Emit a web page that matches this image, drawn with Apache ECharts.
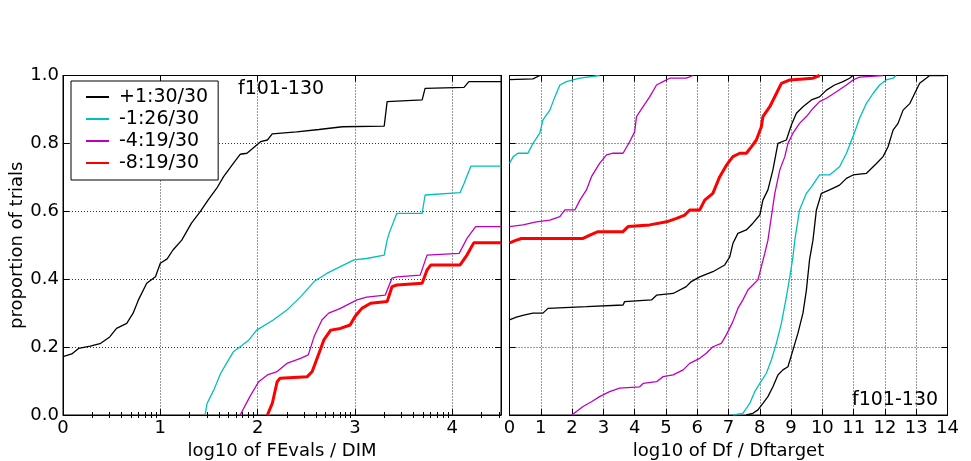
<!DOCTYPE html>
<html>
<head>
<meta charset="utf-8">
<script src="https://cdn.jsdelivr.net/npm/echarts@6/dist/echarts.min.js"></script>
<style>
html,body{margin:0;padding:0;background:#fff;}
#chart{width:971px;height:461px;}
</style>
</head>
<body>
<div id="chart"></div>
<script>
// ---------- tick labels ----------
const leftXTicks = [0, 1, 2, 3, 4];
const rightXTicks = [0,1,2,3,4,5,6,7,8,9,10,11,12,13,14];
const yTicks = [0.0, 0.2, 0.4, 0.6, 0.8, 1.0];

// ---------- legend names ----------
const legendNames = ['+1:30/30', '-1:26/30', '-4:19/30', '-8:19/30'];
const panelTitle = 'f101-130';
const leftXName = 'log10 of FEvals / DIM';
const rightXName = 'log10 of Df / Dftarget';
const yName = 'proportion of trials';

// ---------- left panel: ECDF of FEvals/DIM ----------
const fevalsP1 = [[0,0.172],[0.09,0.18],[0.16,0.196],[0.28,0.203],[0.38,0.21],[0.48,0.23],[0.55,0.255],[0.655,0.27],[0.72,0.30],[0.775,0.339],[0.86,0.388],[0.95,0.407],[1.0,0.447],[1.07,0.46],[1.13,0.486],[1.22,0.515],[1.32,0.565],[1.41,0.599],[1.49,0.633],[1.58,0.668],[1.65,0.702],[1.75,0.741],[1.82,0.768],[1.89,0.771],[1.96,0.788],[2.03,0.805],[2.10,0.81],[2.15,0.828],[2.40,0.834],[2.63,0.841],[2.87,0.849],[3.30,0.851],[3.33,0.923],[3.69,0.928],[3.72,0.962],[4.12,0.965],[4.17,0.982],[4.5,0.982]];
const fevalsM1 = [[1.46,0],[1.48,0.034],[1.55,0.074],[1.62,0.123],[1.68,0.152],[1.75,0.186],[1.82,0.201],[1.91,0.221],[1.99,0.25],[2.16,0.28],[2.30,0.309],[2.44,0.348],[2.58,0.393],[2.71,0.417],[2.85,0.437],[2.99,0.457],[3.12,0.461],[3.30,0.471],[3.33,0.515],[3.35,0.535],[3.43,0.594],[3.69,0.594],[3.72,0.648],[4.08,0.655],[4.12,0.682],[4.19,0.733],[4.5,0.733]];
const fevalsM4 = [[1.82,0],[1.92,0.054],[2.01,0.098],[2.10,0.118],[2.20,0.128],[2.30,0.152],[2.44,0.167],[2.52,0.177],[2.58,0.231],[2.66,0.28],[2.73,0.30],[2.85,0.314],[2.95,0.329],[3.02,0.339],[3.12,0.347],[3.31,0.353],[3.38,0.403],[3.43,0.407],[3.67,0.412],[3.74,0.471],[4.07,0.476],[4.15,0.52],[4.24,0.555],[4.5,0.555]];
const fevalsM8 = [[2.10,0],[2.15,0.034],[2.20,0.098],[2.23,0.108],[2.51,0.113],[2.56,0.128],[2.63,0.182],[2.68,0.221],[2.75,0.25],[2.85,0.255],[2.95,0.265],[3.00,0.29],[3.07,0.314],[3.16,0.329],[3.33,0.334],[3.38,0.378],[3.43,0.383],[3.69,0.388],[3.74,0.427],[3.78,0.442],[4.08,0.442],[4.15,0.471],[4.22,0.507],[4.5,0.507]];

// ---------- right panel: ECDF of Df/Dftarget ----------
const dfBlackA = [[0,0.988],[0.75,0.99],[0.97,1.0]];
const dfCyanA = [[0,0.741],[0.12,0.761],[0.27,0.771],[0.59,0.771],[0.75,0.80],[0.97,0.83],[1.07,0.869],[1.29,0.898],[1.45,0.937],[1.61,0.972],[1.82,0.982],[2.03,0.987],[2.25,0.992],[2.88,1.0]];
const dfMagentaA = [[0,0.555],[0.43,0.56],[0.86,0.569],[1.29,0.574],[1.61,0.584],[1.77,0.604],[2.09,0.604],[2.25,0.633],[2.46,0.663],[2.62,0.702],[2.88,0.741],[3.10,0.766],[3.31,0.771],[3.63,0.771],[3.84,0.805],[4.00,0.834],[4.06,0.879],[4.27,0.908],[4.48,0.937],[4.70,0.972],[4.91,0.982],[5.12,0.992],[5.65,0.992],[5.87,1.0]];
const dfRed = [[0,0.507],[0.22,0.515],[0.38,0.52],[2.35,0.52],[2.57,0.53],[2.83,0.54],[3.63,0.54],[3.79,0.555],[4.48,0.56],[5.02,0.569],[5.34,0.579],[5.60,0.589],[5.76,0.604],[6.08,0.604],[6.24,0.633],[6.50,0.653],[6.72,0.702],[6.93,0.735],[7.14,0.761],[7.36,0.771],[7.57,0.771],[7.73,0.79],[7.89,0.81],[8.05,0.849],[8.10,0.879],[8.32,0.908],[8.53,0.947],[8.69,0.977],[8.96,0.987],[9.70,0.992],[9.91,1.0]];
const dfBlackB = [[0,0.28],[0.22,0.288],[0.49,0.295],[0.75,0.30],[1.07,0.30],[1.23,0.314],[2.46,0.319],[3.63,0.324],[3.68,0.334],[4.54,0.339],[4.70,0.353],[5.23,0.358],[5.65,0.378],[5.81,0.393],[6.08,0.407],[6.50,0.422],[6.88,0.442],[7.04,0.466],[7.14,0.505],[7.30,0.535],[7.57,0.545],[7.78,0.565],[8.00,0.589],[8.10,0.633],[8.26,0.663],[8.42,0.722],[8.58,0.80],[8.85,0.81],[9.01,0.854],[9.17,0.889],[9.38,0.908],[9.65,0.928],[9.91,0.937],[10.13,0.957],[10.39,0.972],[10.66,0.982],[10.87,0.992],[10.98,1.0]];
const dfMagentaB = [[1.98,0],[2.14,0.01],[2.35,0.025],[2.62,0.039],[2.88,0.054],[3.20,0.069],[3.52,0.079],[4.16,0.083],[4.27,0.093],[4.70,0.098],[4.91,0.113],[5.23,0.118],[5.55,0.133],[5.76,0.152],[6.08,0.167],[6.29,0.182],[6.50,0.201],[6.77,0.211],[6.93,0.236],[7.14,0.275],[7.30,0.314],[7.46,0.339],[7.62,0.368],[7.78,0.383],[7.94,0.398],[8.05,0.437],[8.16,0.476],[8.26,0.515],[8.37,0.584],[8.48,0.653],[8.64,0.722],[8.80,0.761],[8.90,0.80],[9.06,0.83],[9.27,0.859],[9.49,0.879],[9.70,0.903],[9.91,0.923],[10.13,0.933],[10.45,0.952],[10.77,0.972],[10.98,0.987],[11.19,0.995],[11.94,1.0]];
const dfCyanB = [[7.14,0],[7.46,0.005],[7.68,0.034],[7.84,0.069],[8.00,0.093],[8.21,0.123],[8.37,0.162],[8.53,0.211],[8.69,0.27],[8.85,0.348],[8.96,0.407],[9.06,0.466],[9.12,0.515],[9.27,0.604],[9.49,0.653],[9.65,0.672],[9.91,0.707],[10.23,0.707],[10.55,0.731],[10.77,0.771],[10.98,0.82],[11.19,0.874],[11.41,0.918],[11.62,0.947],[11.83,0.972],[12.04,0.987],[12.26,0.992],[12.36,1.0]];
const dfBlackC = [[7.57,0],[7.78,0.005],[7.94,0.015],[8.10,0.034],[8.26,0.054],[8.42,0.083],[8.58,0.118],[8.74,0.133],[8.90,0.142],[9.06,0.191],[9.22,0.241],[9.38,0.30],[9.49,0.368],[9.59,0.457],[9.70,0.515],[9.81,0.604],[9.97,0.653],[10.23,0.663],[10.55,0.677],[10.77,0.697],[10.98,0.707],[11.41,0.712],[11.73,0.741],[11.94,0.761],[12.10,0.79],[12.26,0.839],[12.42,0.859],[12.58,0.898],[12.80,0.918],[12.95,0.947],[13.11,0.977],[13.32,0.992],[13.43,1.0],[13.9,1.0]];

// ---------- styling ----------
const FONT = 'DejaVu Sans';
const C_BLACK = '#000000', C_CYAN = '#00bfbf', C_MAG = '#bf00bf', C_RED = '#ff0000';
const gridLine = {show:true, lineStyle:{color:'#333', width:1, type:[1,2]}};

// log-minor tick positions for the left (log10) axis
const minorLeft = [];
for (let d = 0; d < 5; d++) for (let k = 2; k <= 9; k++) { const v = d + Math.log10(k); if (v < 4.5) minorLeft.push(v); }

function xAx(gridIndex, max, pos, labels, ticks, name) {
  return {
    type:'value', gridIndex, min:0, max, interval:1, position:pos,
    axisLine:{show:true, onZero:false, lineStyle:{color:'#000', width:1}},
    axisTick:{show:true, inside:true, length:6, lineStyle:{color:'#000'}},
    axisLabel:{show:labels, margin:4, fontFamily:FONT, fontSize:18, color:'#000', showMaxLabel: max === 14,
      formatter: v => ticks.includes(v) ? String(v) : ''},
    splitLine: pos === 'bottom' ? gridLine : {show:false},
    name: name || '', nameLocation:'middle', nameGap:22,
    nameTextStyle:{fontFamily:FONT, fontSize:18, color:'#000'}
  };
}
function minorAx(gridIndex, pos) {
  return {
    type:'value', gridIndex, min:0, max:4.5, position:pos,
    axisLine:{show:false}, axisLabel:{show:false}, splitLine:{show:false},
    axisTick:{show:true, inside:true, length:3, customValues:minorLeft, lineStyle:{color:'#000'}}
  };
}
function yAx(gridIndex, pos, labels, name) {
  return {
    type:'value', gridIndex, min:0, max:1, interval:0.2, position:pos,
    axisLine:{show:true, onZero:false, lineStyle:{color:'#000', width:1}},
    axisTick:{show:true, inside:true, length:6, lineStyle:{color:'#000'}},
    axisLabel:{show:labels, margin:4, fontFamily:FONT, fontSize:18, color:'#000',
      formatter: v => yTicks.some(t => Math.abs(t - v) < 1e-9) ? v.toFixed(1) : ''},
    splitLine: pos === 'left' ? gridLine : {show:false},
    name: name || '', nameLocation:'middle', nameGap:35,
    nameTextStyle:{fontFamily:FONT, fontSize:18, color:'#000'}
  };
}
function line(name, data, color, width, xi, yi, z) {
  return {
    type:'line', name, data, xAxisIndex:xi, yAxisIndex:yi,
    symbol:'none', showSymbol:false, z: z || 2, silent:true,
    lineStyle:{color, width}, itemStyle:{color}, emphasis:{disabled:true}
  };
}

const chart = echarts.init(document.getElementById('chart'), null, {renderer:'canvas'});
chart.setOption({
  animation:false,
  backgroundColor:'#fff',
  textStyle:{fontFamily:FONT},
  grid:[
    {left:63, top:75.5, width:438, height:339.5, show:true, borderColor:'#000', borderWidth:1, backgroundColor:'transparent', containLabel:false, outerBoundsMode:'none'},
    {left:509.5, top:75.5, width:438, height:339.5, show:true, borderColor:'#000', borderWidth:1, backgroundColor:'transparent', containLabel:false, outerBoundsMode:'none'}
  ],
  xAxis:[
    xAx(0, 4.5, 'bottom', true, leftXTicks, leftXName),
    xAx(0, 4.5, 'top', false, leftXTicks),
    minorAx(0, 'bottom'),
    minorAx(0, 'top'),
    xAx(1, 14, 'bottom', true, rightXTicks, rightXName),
    xAx(1, 14, 'top', false, rightXTicks)
  ],
  yAxis:[
    yAx(0, 'left', true, yName),
    yAx(0, 'right', false),
    yAx(1, 'left', false),
    yAx(1, 'right', false)
  ],
  legend:{
    data: legendNames, orient:'vertical', left:71, top:81,
    padding:[5,10,6,14], itemGap:0, itemWidth:23, itemHeight:22,
    itemStyle:{opacity:0},
    borderColor:'#000', borderWidth:1, backgroundColor:'#fff', selectedMode:false,
    textStyle:{fontFamily:FONT, fontSize:19, color:'#000', lineHeight:22, padding:[0,0,0,5]}
  },
  graphic:[
    {type:'text', left:238, top:80, style:{text:panelTitle, font:'19px "DejaVu Sans"', fill:'#000'}},
    {type:'text', left:852, top:391, style:{text:panelTitle, font:'19px "DejaVu Sans"', fill:'#000'}}
  ],
  series:[
    line(legendNames[0], fevalsP1, C_BLACK, 1.3, 0, 0),
    line(legendNames[1], fevalsM1, C_CYAN, 1.3, 0, 0),
    line(legendNames[2], fevalsM4, C_MAG, 1.3, 0, 0),
    line(legendNames[3], fevalsM8, C_RED, 3, 0, 0),
    line('r-black-a', dfBlackA, C_BLACK, 1.3, 4, 2),
    line('r-cyan-a', dfCyanA, C_CYAN, 1.3, 4, 2),
    line('r-magenta-a', dfMagentaA, C_MAG, 1.3, 4, 2),
    line('r-red', dfRed, C_RED, 3, 4, 2),
    line('r-black-b', dfBlackB, C_BLACK, 1.3, 4, 2),
    line('r-magenta-b', dfMagentaB, C_MAG, 1.3, 4, 2),
    line('r-cyan-b', dfCyanB, C_CYAN, 1.3, 4, 2),
    line('r-black-c', dfBlackC, C_BLACK, 1.3, 4, 2)
  ]
});
</script>
</body>
</html>
